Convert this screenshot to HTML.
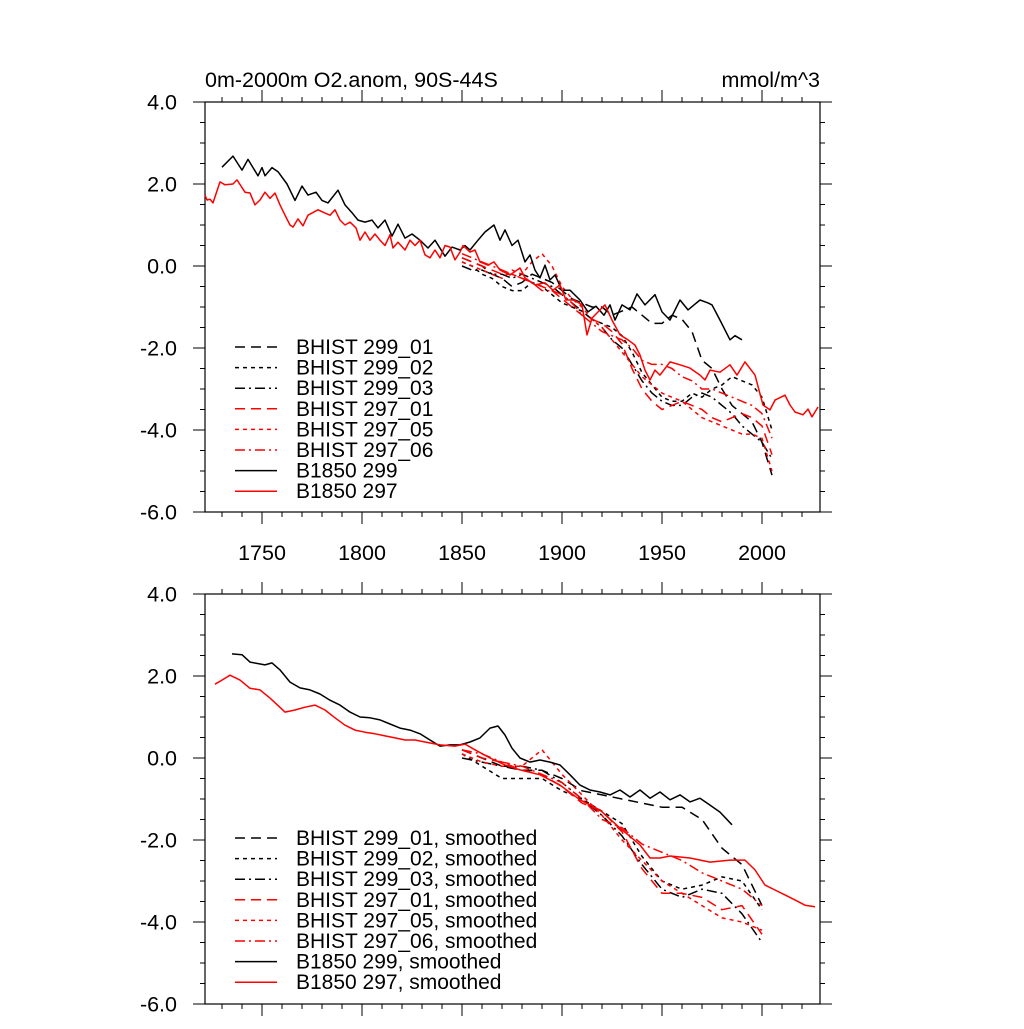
<!DOCTYPE html>
<html><head><meta charset="utf-8"><style>
body{margin:0;background:#fff;}
svg text{font-family:"Liberation Sans",sans-serif;}
</style></head><body>
<svg id="c" width="1024" height="1024" xmlns="http://www.w3.org/2000/svg"></svg>
<script>
const b299Years=[1730,1735.5,1740,1743,1748,1750,1751.5,1755,1758,1762.5,1766.5,1770,1773,1777,1780,1783,1788,1791.5,1795,1798,1801.5,1805,1808,1811.5,1815,1818,1821.5,1825,1829,1833,1836.5,1841.5,1845,1849,1851.5,1854,1858,1861.5,1866,1869,1871.5,1875,1878,1881.5,1884,1886.5,1889,1891.5,1894,1896.5,1900,1904,1909,1913,1917,1921,1924,1926.5,1930,1934,1937.5,1941.5,1946.5,1950,1954,1959,1963,1966,1969,1973,1975,1979,1984,1986.5,1990];
const b299Vals=[2.41,2.68,2.34,2.6,2.2,2.4,2.2,2.4,2.3,2.0,1.6,1.95,1.73,1.8,1.6,1.54,1.85,1.49,1.3,1.12,1.07,1.12,0.93,1.12,0.73,1.02,0.68,0.78,0.63,0.44,0.63,0.24,0.46,0.39,0.5,0.39,0.63,0.83,1.0,0.63,0.88,0.5,0.63,0.1,0.27,-0.1,-0.29,0.02,-0.34,-0.22,-0.59,-0.59,-0.83,-1.12,-0.98,-1.2,-0.95,-1.32,-0.95,-1.07,-0.68,-0.95,-0.7,-1.12,-1.32,-0.83,-1.07,-0.95,-0.83,-0.9,-0.95,-1.32,-1.8,-1.7,-1.8];
const b297Years=[1721.5,1722.5,1724,1725.5,1729,1731.5,1735.5,1737.5,1741.5,1744,1746.5,1749,1751.5,1754,1756.5,1759,1761.5,1764,1765.5,1768,1770.5,1773,1778,1781.5,1784,1786.5,1789,1791.5,1794,1797,1799,1801.5,1804,1806.5,1809,1811.5,1814,1815.5,1818,1821.5,1824,1826.5,1829,1831.5,1834,1836.5,1839,1841.5,1844,1846.5,1849,1850.5,1854,1856.5,1859,1863,1866,1869,1874,1879,1881.5,1886.5,1891.5,1895.5,1899,1902,1906,1910,1912.5,1915,1919,1921.5,1925,1929,1933,1936.5,1939,1941.5,1944,1946.5,1949,1954,1959,1964,1969,1971.5,1974,1979,1984,1987.5,1991.5,1996.5,2000.5,2004,2006.5,2011.5,2014,2016.5,2020.5,2023,2025,2028];
const b297Vals=[1.73,1.61,1.63,1.54,2.05,1.98,2.0,2.1,1.8,1.78,1.49,1.61,1.8,1.65,1.78,1.49,1.24,1.0,0.95,1.15,0.98,1.24,1.37,1.29,1.24,1.37,1.12,1.0,1.07,0.93,0.63,0.83,0.63,0.78,0.63,0.5,0.76,0.44,0.58,0.39,0.63,0.5,0.63,0.27,0.2,0.39,0.2,0.5,0.46,0.15,0.34,0.5,0.34,0.39,0.1,0.02,0.1,-0.1,-0.22,-0.05,-0.29,-0.46,-0.41,-0.59,-0.46,-0.83,-0.83,-0.95,-1.68,-1.27,-1.07,-0.95,-1.32,-1.68,-1.8,-1.93,-2.17,-2.54,-2.78,-2.54,-2.66,-2.34,-2.41,-2.49,-2.66,-2.78,-2.54,-2.59,-2.41,-2.66,-2.34,-2.66,-3.39,-3.51,-3.27,-3.15,-3.39,-3.56,-3.63,-3.49,-3.68,-3.44];
const bhYears=[1850,1855,1860,1865,1870,1875,1880,1885,1890,1895,1900,1905,1910,1915,1920,1925,1930,1935,1940,1945,1950,1955,1960,1965,1970,1975,1980,1985,1990,1995,2000,2005];
const h299_01=[0.2,0.1,0.0,-0.2,-0.3,-0.5,-0.4,-0.2,-0.3,-0.4,-0.6,-0.8,-0.9,-1.0,-1.0,-1.2,-1.1,-1.0,-1.2,-1.4,-1.4,-1.2,-1.3,-1.6,-2.3,-2.5,-3.0,-3.4,-3.6,-3.8,-4.3,-5.1];
const h299_02=[0.1,0.0,-0.2,-0.3,-0.5,-0.6,-0.6,-0.4,-0.5,-0.7,-0.9,-1.0,-1.1,-1.3,-1.4,-1.5,-1.7,-2.1,-2.6,-2.9,-3.2,-3.3,-3.3,-3.1,-3.2,-3.0,-2.9,-2.7,-2.8,-2.9,-3.2,-4.0];
const h299_03=[0.0,-0.1,-0.1,-0.2,-0.2,-0.3,-0.2,-0.3,-0.4,-0.5,-0.7,-0.9,-1.1,-1.3,-1.5,-1.8,-2.0,-2.4,-2.8,-3.1,-3.3,-3.4,-3.4,-3.2,-3.1,-3.2,-3.4,-3.6,-3.9,-4.1,-4.3,-4.7];
const h297_01=[0.2,0.1,0.0,-0.1,-0.2,-0.2,-0.3,-0.4,-0.5,-0.6,-0.8,-1.0,-1.2,-1.3,-1.4,-1.6,-1.9,-2.5,-3.0,-3.3,-3.5,-3.4,-3.3,-3.4,-3.5,-3.7,-3.8,-3.7,-3.6,-3.7,-3.9,-4.6];
const h297_05=[0.1,0.0,-0.1,-0.2,-0.3,-0.1,-0.2,0.1,0.3,0.0,-0.5,-0.8,-1.0,-1.3,-1.5,-1.8,-2.1,-2.4,-2.7,-2.9,-3.1,-3.2,-3.3,-3.5,-3.7,-3.8,-3.9,-4.0,-4.1,-4.1,-4.2,-5.0];
const h297_06=[0.3,0.2,0.1,0.0,-0.1,-0.2,-0.3,-0.4,-0.6,-0.6,-0.7,-0.9,-1.2,-1.4,-1.6,-1.7,-1.8,-2.0,-2.3,-2.4,-2.4,-2.5,-2.7,-2.8,-3.0,-3.0,-3.1,-3.2,-3.3,-3.4,-3.6,-4.2];
const s299Years=[1735,1740,1744,1751.5,1755,1759,1764,1769,1774,1779,1784,1789,1794,1799,1804,1809,1814,1819,1824,1829,1834,1839,1844,1849,1854,1859,1864,1868,1871.5,1875,1879,1884,1889,1894,1899,1904,1909,1914,1919,1924,1929,1934,1939,1944,1949,1954,1959,1964,1969,1974,1979,1985];
const s299Vals=[2.54,2.52,2.34,2.27,2.32,2.15,1.85,1.71,1.66,1.56,1.41,1.29,1.12,1.0,0.98,0.93,0.83,0.73,0.68,0.59,0.44,0.29,0.32,0.32,0.39,0.49,0.73,0.78,0.56,0.24,0.0,-0.1,-0.05,-0.1,-0.17,-0.41,-0.66,-0.78,-0.83,-0.9,-0.78,-0.95,-0.78,-0.98,-0.83,-1.02,-0.9,-1.07,-0.98,-1.15,-1.32,-1.63];
const s297Years=[1726.5,1730,1734,1739,1744,1749,1754,1761.5,1766.5,1771.5,1776.5,1781.5,1786.5,1791.5,1796.5,1801.5,1806.5,1811.5,1816.5,1821.5,1826.5,1831.5,1839,1846.5,1851.5,1856.5,1864,1871.5,1879,1889,1899,1909,1919,1929,1939,1944,1949,1954,1964,1974,1984,1991.5,1996.5,2001.5,2006.5,2011.5,2016.5,2021.5,2026.5];
const s297Vals=[1.8,1.9,2.02,1.9,1.7,1.66,1.46,1.12,1.17,1.24,1.29,1.17,0.98,0.8,0.68,0.63,0.59,0.54,0.49,0.44,0.44,0.39,0.32,0.29,0.34,0.2,0.0,-0.17,-0.29,-0.41,-0.66,-1.02,-1.27,-1.71,-2.12,-2.44,-2.44,-2.39,-2.44,-2.54,-2.49,-2.49,-2.73,-3.1,-3.22,-3.34,-3.46,-3.59,-3.63];
const sYears=[1850,1860,1870,1880,1890,1900,1910,1920,1930,1940,1950,1960,1970,1980,1990,2000];
const sm299_01=[0.2,0.0,-0.2,-0.3,-0.3,-0.5,-0.8,-0.9,-1.0,-1.1,-1.2,-1.2,-1.5,-2.2,-2.6,-3.6];
const sm299_02=[0.1,-0.2,-0.5,-0.5,-0.5,-0.8,-1.0,-1.3,-1.6,-2.4,-3.0,-3.2,-3.1,-2.9,-3.0,-3.7];
const sm299_03=[0.0,-0.1,-0.2,-0.2,-0.3,-0.6,-1.0,-1.4,-1.9,-2.6,-3.2,-3.4,-3.2,-3.3,-3.8,-4.5];
const sm297_01=[0.2,0.0,-0.1,-0.3,-0.4,-0.7,-1.1,-1.3,-1.8,-2.7,-3.3,-3.3,-3.4,-3.7,-3.6,-4.3];
const sm297_05=[0.1,-0.1,-0.2,-0.2,0.2,-0.4,-0.9,-1.4,-2.0,-2.5,-3.0,-3.3,-3.6,-3.9,-4.0,-4.2];
const sm297_06=[0.2,0.1,-0.1,-0.2,-0.4,-0.6,-1.0,-1.5,-1.7,-2.1,-2.3,-2.5,-2.8,-3.0,-3.2,-3.6];
const xTicks=[1750,1800,1850,1900,1950,2000];
const yTicks=[4,2,0,-2,-4,-6];
const yTickLabels=["4.0","2.0","0.0","-2.0","-4.0","-6.0"];

const NS="http://www.w3.org/2000/svg";
const svg=document.getElementById('c');
function el(t,a,p){const e=document.createElementNS(NS,t);for(const k in a)e.setAttribute(k,a[k]);(p||svg).appendChild(e);return e;}
const X0=205,X1=820,XMIN=1721.5,XMAX=2029;
const FS=21.5;
function xs(v){return X0+(v-XMIN)/(XMAX-XMIN)*(X1-X0);}
const dashes={solid:"",long:"10,6",short:"4,4",dashdot:"10,4,2,4"};

function panel(top,name,series,legendTop,suffix){
  const bot=top+410;
  const g=el('g',{});
  
  
  function ys(v){return top+(4-v)/10*410;}
  el('rect',{x:X0,y:top,width:X1-X0,height:410,fill:'none',stroke:'#000','stroke-width':1.2},g);
  for(let yr=1730;yr<=2020;yr+=10){
    const major=yr%50===0, L=major?12:5;
    el('line',{x1:xs(yr),x2:xs(yr),y1:bot,y2:bot+L,stroke:'#000','stroke-width':1},g);
    el('line',{x1:xs(yr),x2:xs(yr),y1:top,y2:top-L,stroke:'#000','stroke-width':1},g);
  }
  for(let v=-6;v<=4.001;v+=0.5){
    const major=Math.abs(v%2)<1e-6, L=major?12:5;
    el('line',{x1:X0,x2:X0-L,y1:ys(v),y2:ys(v),stroke:'#000','stroke-width':1},g);
    el('line',{x1:X1,x2:X1+L,y1:ys(v),y2:ys(v),stroke:'#000','stroke-width':1},g);
  }
  yTicks.forEach((v,i)=>{
    const t=el('text',{x:177,y:ys(v)+7.5,'text-anchor':'end','font-size':FS},g);
    t.textContent=yTickLabels[i];
    
    
  });
  series.forEach((s,i)=>{
    const d=s.x.map((xv,j)=>(j?'L':'M')+xs(xv).toFixed(1)+','+ys(s.y[j]).toFixed(1)).join('');
    const p=el('path',{d:d,fill:'none',stroke:s.c,'stroke-width':1.5,'stroke-dasharray':dashes[s.d],'stroke-linejoin':'round'},g);
    
    
    const ly=legendTop+i*20.6;
    const ll=el('line',{x1:235,x2:277,y1:ly,y2:ly,stroke:s.c,'stroke-width':1.5,'stroke-dasharray':dashes[s.d]},g);
    
    
    const lt=el('text',{x:296,y:ly+7,'font-size':FS-0.5},g);
    lt.textContent=s.n+suffix;
    
    
  });
  return ys;
}
const names=["BHIST 299_01","BHIST 299_02","BHIST 299_03","BHIST 297_01","BHIST 297_05","BHIST 297_06","B1850 299","B1850 297"];
const sty=[['#000','long'],['#000','short'],['#000','dashdot'],['#f00','long'],['#f00','short'],['#f00','dashdot'],['#000','solid'],['#f00','solid']];
const topData=[[bhYears,h299_01],[bhYears,h299_02],[bhYears,h299_03],[bhYears,h297_01],[bhYears,h297_05],[bhYears,h297_06],[b299Years,b299Vals],[b297Years,b297Vals]];
const botData=[[sYears,sm299_01],[sYears,sm299_02],[sYears,sm299_03],[sYears,sm297_01],[sYears,sm297_05],[sYears,sm297_06],[s299Years,s299Vals],[s297Years,s297Vals]];
panel(102,'top-panel',topData.map((d,i)=>({x:d[0],y:d[1],c:sty[i][0],d:sty[i][1],n:names[i]})),347,'');
panel(594,'bottom-panel',botData.map((d,i)=>({x:d[0],y:d[1],c:sty[i][0],d:sty[i][1],n:names[i]})),838,', smoothed');
xTicks.forEach(v=>{
  const t=el('text',{x:xs(v),y:560,'text-anchor':'middle','font-size':FS});
  t.textContent=String(v);
  
  
});
const tt=el('text',{x:205,y:87,'font-size':FS});
tt.textContent='0m-2000m O2.anom, 90S-44S';


const ut=el('text',{x:820,y:87,'font-size':FS,'text-anchor':'end'});
ut.textContent='mmol/m^3';


</script>
</body></html>
